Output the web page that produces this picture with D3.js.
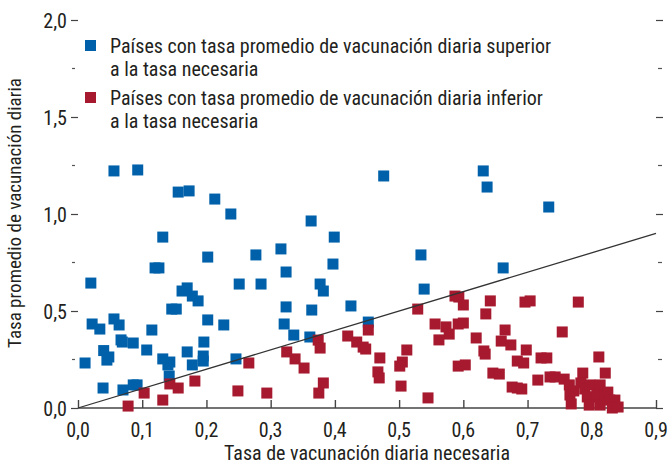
<!DOCTYPE html>
<html>
<head>
<meta charset="utf-8">
<script src="https://cdn.jsdelivr.net/npm/d3@7"></script>
<style>
  body { margin: 0; background: #fff; }
  svg text { font-family: "Liberation Sans Narrow", "Roboto Condensed", "Liberation Sans", sans-serif; fill: #231f20; }
</style>
</head>
<body>
<svg id="chart" width="670" height="465"></svg>
<script>
// Países con tasa promedio superior a la necesaria (x = tasa necesaria, y = tasa promedio)
const superiorPoints = [
  [0.056, 1.222], [0.093, 1.227], [0.156, 1.113], [0.173, 1.119], [0.213, 1.077],
  [0.238, 1.000], [0.132, 0.881], [0.202, 0.778], [0.277, 0.789], [0.120, 0.722],
  [0.126, 0.722], [0.020, 0.644], [0.251, 0.639], [0.162, 0.603], [0.170, 0.619],
  [0.178, 0.577], [0.187, 0.552], [0.146, 0.510], [0.153, 0.510], [0.202, 0.454],
  [0.056, 0.459], [0.064, 0.428], [0.022, 0.433], [0.034, 0.407], [0.115, 0.402],
  [0.227, 0.428], [0.067, 0.351], [0.069, 0.340], [0.086, 0.335], [0.196, 0.340],
  [0.107, 0.299], [0.040, 0.296], [0.048, 0.263], [0.045, 0.247], [0.170, 0.289],
  [0.132, 0.253], [0.143, 0.237], [0.140, 0.222], [0.195, 0.268], [0.195, 0.242],
  [0.178, 0.222], [0.011, 0.232], [0.246, 0.253], [0.142, 0.165], [0.039, 0.103],
  [0.070, 0.093], [0.086, 0.119], [0.092, 0.119], [0.476, 1.196], [0.363, 0.964],
  [0.399, 0.881], [0.316, 0.820], [0.397, 0.742], [0.324, 0.701], [0.534, 0.789],
  [0.285, 0.639], [0.377, 0.639], [0.382, 0.603], [0.539, 0.613], [0.324, 0.521],
  [0.364, 0.505], [0.425, 0.526], [0.321, 0.433], [0.452, 0.443], [0.336, 0.376],
  [0.361, 0.366], [0.631, 1.222], [0.637, 1.139], [0.733, 1.036], [0.662, 0.722]
];

// Países con tasa promedio inferior a la necesaria
const inferiorPoints = [
  [0.143, 0.124], [0.156, 0.103], [0.103, 0.077], [0.132, 0.041], [0.078, 0.010],
  [0.249, 0.088], [0.266, 0.232], [0.182, 0.139], [0.325, 0.289], [0.338, 0.253],
  [0.352, 0.206], [0.374, 0.350], [0.377, 0.309], [0.382, 0.129], [0.375, 0.077],
  [0.294, 0.077], [0.420, 0.371], [0.434, 0.340], [0.444, 0.314], [0.448, 0.304],
  [0.452, 0.402], [0.470, 0.258], [0.467, 0.186], [0.469, 0.155], [0.505, 0.237],
  [0.501, 0.216], [0.512, 0.299], [0.503, 0.113], [0.529, 0.510], [0.545, 0.052],
  [0.556, 0.433], [0.573, 0.418], [0.578, 0.381], [0.562, 0.351], [0.587, 0.577],
  [0.593, 0.572], [0.600, 0.531], [0.592, 0.433], [0.600, 0.438], [0.592, 0.216],
  [0.603, 0.222], [0.642, 0.552], [0.635, 0.485], [0.620, 0.361], [0.632, 0.294],
  [0.634, 0.278], [0.646, 0.180], [0.656, 0.175], [0.665, 0.402], [0.659, 0.345],
  [0.674, 0.325], [0.676, 0.108], [0.684, 0.103], [0.691, 0.098], [0.684, 0.242],
  [0.694, 0.232], [0.696, 0.546], [0.704, 0.552], [0.698, 0.299], [0.716, 0.144],
  [0.721, 0.258], [0.730, 0.258], [0.735, 0.160], [0.743, 0.160], [0.754, 0.392],
  [0.757, 0.149], [0.779, 0.546], [0.765, 0.119], [0.766, 0.067], [0.768, 0.021],
  [0.772, 0.088], [0.786, 0.180], [0.783, 0.129], [0.789, 0.098], [0.793, 0.057],
  [0.796, 0.015], [0.797, 0.119], [0.805, 0.057], [0.808, 0.072], [0.811, 0.263],
  [0.813, 0.119], [0.813, 0.015], [0.821, 0.180], [0.821, 0.067], [0.825, 0.082],
  [0.828, 0.041], [0.836, 0.041], [0.832, 0.000], [0.841, 0.005]
];

const xTicks = [0, 0.1, 0.2, 0.3, 0.4, 0.5, 0.6, 0.7, 0.8, 0.9];
const yTicks = [0, 0.5, 1.0, 1.5, 2.0];
const yMinorTicks = [0.25, 0.75, 1.25, 1.75];
const referenceLine = [[0, 0], [0.9, 0.9]];

const legendItems = [
  { color: '#0061aa', lines: ['Países con tasa promedio de vacunación diaria superior', 'a la tasa necesaria'] },
  { color: '#a6192e', lines: ['Países con tasa promedio de vacunación diaria inferior', 'a la tasa necesaria'] }
];
const xTitle = 'Tasa de vacunación diaria necesaria';
const yTitle = 'Tasa promedio de vacunación diaria';

const svg = d3.select('#chart');
const plotLeft = 78, plotRight = 656, plotTop = 20, plotBottom = 408;

const x = d3.scaleLinear().domain([0, 0.9]).range([plotLeft, plotRight]);
const y = d3.scaleLinear().domain([0, 2]).range([plotBottom, plotTop]);

const locale = d3.formatLocale({ decimal: ',', thousands: '.', grouping: [3], currency: ['', '€'] });
const fmt = locale.format('.1f');

// x axis, ticks pointing up
const xAxis = svg.append('g')
  .attr('transform', `translate(0,${plotBottom})`)
  .call(d3.axisTop(x).tickValues(xTicks).tickSize(8).tickFormat(''));
xAxis.select('.domain').attr('d', `M${plotLeft},0H${plotRight}`).attr('stroke', '#444').attr('stroke-width', 1.6);
xAxis.selectAll('.tick line').attr('stroke', '#444').attr('stroke-width', 1.4);

svg.append('g').selectAll('text')
  .data(xTicks)
  .join('text')
  .attr('x', d => x(d))
  .attr('y', plotBottom + 29)
  .attr('text-anchor', 'middle')
  .attr('font-size', 20)
  .text(d => fmt(d));

// y axis: ticks only, both sides
const yLeft = svg.append('g')
  .attr('transform', `translate(${plotLeft},0)`)
  .call(d3.axisLeft(y).tickValues(yTicks).tickSize(7).tickPadding(4).tickFormat(d => fmt(d)));
yLeft.select('.domain').remove();
yLeft.selectAll('.tick line').attr('stroke', '#444').attr('stroke-width', 1.2);
yLeft.selectAll('.tick text').attr('font-size', 20).attr('dy', '0.35em').attr('fill', '#231f20');

const yRight = svg.append('g')
  .attr('transform', `translate(${plotRight},0)`)
  .call(d3.axisRight(y).tickValues(yTicks).tickSize(7).tickFormat(''));
yRight.select('.domain').remove();
yRight.selectAll('.tick line').attr('stroke', '#444').attr('stroke-width', 1.2);

svg.append('g').selectAll('line')
  .data(yMinorTicks.flatMap(v => [{ v, side: 'l' }, { v, side: 'r' }]))
  .join('line')
  .attr('x1', d => d.side === 'l' ? plotLeft - 6 : plotRight + 2)
  .attr('x2', d => d.side === 'l' ? plotLeft - 3 : plotRight + 6)
  .attr('y1', d => y(d.v))
  .attr('y2', d => y(d.v))
  .attr('stroke', '#555')
  .attr('stroke-width', 1.2);

// points
const size = 11;
svg.append('g').selectAll('rect')
  .data(superiorPoints)
  .join('rect')
  .attr('x', d => x(d[0]) - size / 2)
  .attr('y', d => y(d[1]) - size / 2)
  .attr('width', size)
  .attr('height', size)
  .attr('fill', legendItems[0].color);

svg.append('g').selectAll('rect')
  .data(inferiorPoints)
  .join('rect')
  .attr('x', d => x(d[0]) - size / 2)
  .attr('y', d => y(d[1]) - size / 2)
  .attr('width', size)
  .attr('height', size)
  .attr('fill', legendItems[1].color);

// 45 degree line
svg.append('path')
  .datum(referenceLine)
  .attr('d', d3.line().x(d => x(d[0])).y(d => y(d[1])))
  .attr('fill', 'none')
  .attr('stroke', '#333')
  .attr('stroke-width', 1.3);

// legend
const legend = svg.append('g');
legendItems.forEach((item, i) => {
  const ly = 46 + i * 52;
  legend.append('rect')
    .attr('x', 85).attr('y', ly - 6)
    .attr('width', 11).attr('height', 11)
    .attr('fill', item.color);
  item.lines.forEach((line, j) => {
    legend.append('text')
      .attr('x', 110)
      .attr('y', ly + j * 23)
      .attr('dy', '0.35em')
      .attr('font-size', 20)
      .text(line);
  });
});

// axis titles
svg.append('text')
  .attr('x', (plotLeft + plotRight) / 2)
  .attr('y', 460)
  .attr('text-anchor', 'middle')
  .attr('font-size', 20)
  .text(xTitle);

svg.append('text')
  .attr('transform', 'translate(14,213) rotate(-90)')
  .attr('text-anchor', 'middle')
  .attr('dy', '0.35em')
  .attr('font-size', 19)
  .text(yTitle);
</script>
</body>
</html>
